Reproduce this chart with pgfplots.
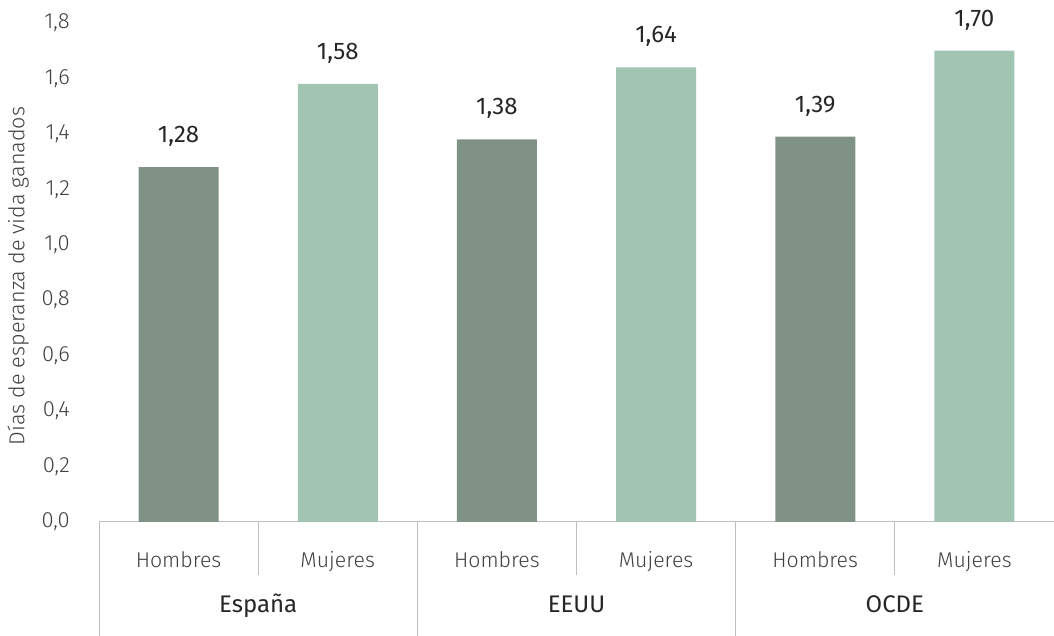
\documentclass[border=0pt]{standalone}
\usepackage{pgfplots}
\pgfplotsset{compat=1.18}
\usepackage{fontspec}
\setmainfont{Fira Sans}
\newfontfamily\light{Fira Sans Light}
\definecolor{hom}{HTML}{809185}
\definecolor{muj}{HTML}{A1C4B3}
\definecolor{axisgray}{HTML}{BFBFBF}
\definecolor{txt}{HTML}{262626}
\definecolor{ltxt}{HTML}{404040}
\tikzset{ytl/.style={anchor=east, inner sep=0pt, font=\light\fontsize{22}{24}\selectfont, text=ltxt}}
\begin{document}
\begin{tikzpicture}[x=1pt,y=1pt]
\path[use as bounding box] (0,0) rectangle (1054,636);
\begin{axis}[
  at={(99pt,114pt)}, anchor=south west,
  scale only axis, width=955pt, height=499pt,
  xmin=-0.5, xmax=5.5, ymin=0, ymax=1.8,
  axis x line*=bottom, axis y line*=left,
  y axis line style={draw=none},
  x axis line style={draw=axisgray, line width=1pt, -},
  major tick length=0pt,
  ytick={0,0.2,0.4,0.6,0.8,1.0,1.2,1.4,1.6,1.8},
  yticklabels={},
  xtick=\empty,
  ylabel={Días de esperanza de vida ganados},
  ylabel style={at={(axis description cs:-0.0848,0.493)}, anchor=center, font=\light\fontsize{21.6}{24}\selectfont, text=ltxt},
  ybar, bar width=80pt, bar shift=0pt,
  nodes near coords,
  every node near coord/.append style={/pgf/number format/fixed, /pgf/number format/fixed zerofill,
     /pgf/number format/precision=2, /pgf/number format/use comma,
     /pgf/number format/assume math mode=true,
     anchor=base, yshift=24.6pt, inner sep=0pt, font=\fontsize{24}{26}\selectfont, text=txt},
  clip=false,
]
\addplot[fill=hom, draw=none] coordinates {(0,1.28) (2,1.38) (4,1.39)};
\addplot[fill=muj, draw=none] coordinates {(1,1.58) (3,1.64) (5,1.70)};
\pgfplotsinvokeforeach{-0.5,1.5,3.5}{
  \draw[axisgray, line width=1pt] (axis cs:#1,0) -- ([yshift=-114pt]axis cs:#1,0);
}
\pgfplotsinvokeforeach{0.5,2.5,4.5}{
  \draw[axisgray, line width=1pt] (axis cs:#1,0) -- ([yshift=-53pt]axis cs:#1,0);
}
\node[ytl] at ([xshift=-29pt]axis cs:-0.5,0.0) {0,0};
\node[ytl] at ([xshift=-29pt]axis cs:-0.5,0.2) {0,2};
\node[ytl] at ([xshift=-29pt]axis cs:-0.5,0.4) {0,4};
\node[ytl] at ([xshift=-29pt]axis cs:-0.5,0.6) {0,6};
\node[ytl] at ([xshift=-29pt]axis cs:-0.5,0.8) {0,8};
\node[ytl] at ([xshift=-29pt]axis cs:-0.5,1.0) {1,0};
\node[ytl] at ([xshift=-29pt]axis cs:-0.5,1.2) {1,2};
\node[ytl] at ([xshift=-29pt]axis cs:-0.5,1.4) {1,4};
\node[ytl] at ([xshift=-29pt]axis cs:-0.5,1.6) {1,6};
\node[ytl] at ([xshift=-29pt]axis cs:-0.5,1.8) {1,8};
\pgfplotsinvokeforeach{0,2,4}{
  \node[anchor=base, inner sep=0pt, font=\light\fontsize{21.3}{24}\selectfont, text=ltxt] at ([yshift=-46pt]axis cs:#1,0) {Hombres};
}
\pgfplotsinvokeforeach{1,3,5}{
  \node[anchor=base, inner sep=0pt, font=\light\fontsize{21.3}{24}\selectfont, text=ltxt] at ([yshift=-46pt]axis cs:#1,0) {Mujeres};
}
\node[anchor=base, inner sep=0pt, font=\fontsize{24}{26}\selectfont, text=txt] at ([yshift=-91pt]axis cs:0.5,0) {España};
\node[anchor=base, inner sep=0pt, font=\fontsize{24}{26}\selectfont, text=txt] at ([yshift=-91pt]axis cs:2.5,0) {EEUU};
\node[anchor=base, inner sep=0pt, font=\fontsize{24}{26}\selectfont, text=txt] at ([yshift=-91pt]axis cs:4.5,0) {OCDE};
\end{axis}
\end{tikzpicture}
\end{document}
